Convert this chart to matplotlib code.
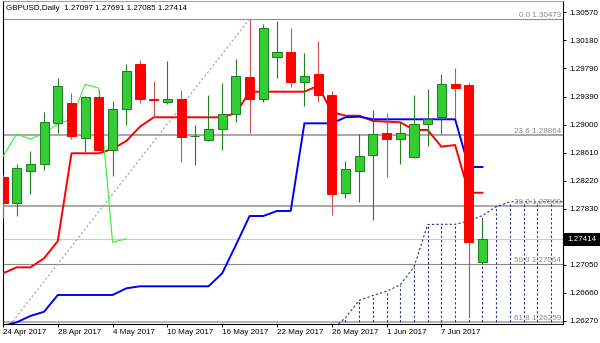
import matplotlib
matplotlib.use("Agg")
import matplotlib.pyplot as plt
from matplotlib.patches import Rectangle

plt.rcParams['font.family'] = ['Liberation Sans', 'DejaVu Sans']
plt.rcParams['font.size'] = 5.8

# daily candles, 24 Apr 2017 .. 12 Jun 2017
opens = [1.28278, 1.27916, 1.28362, 1.28451, 1.29030, 1.29299, 1.28821, 1.29387, 1.28654,
         1.29216, 1.29842, 1.29366, 1.29322, 1.29359, 1.28838, 1.28789, 1.28942, 1.29155,
         1.29670, 1.29359, 1.29944, 1.30017, 1.29600, 1.29707, 1.29415, 1.28047, 1.28362,
         1.28576, 1.28882, 1.28799, 1.28556, 1.29016, 1.29113, 1.29564, 1.29554, 1.27097]
highs = [1.28300, 1.28455, 1.28636, 1.29174, 1.29656, 1.29447, 1.29405, 1.29485, 1.29331,
         1.29846, 1.29902, 1.29614, 1.29888, 1.29485, 1.29000, 1.29415, 1.29578, 1.29916,
         1.30473, 1.30403, 1.30445, 1.30343, 1.30000, 1.30166, 1.29471, 1.28497, 1.28872,
         1.29206, 1.29159, 1.29035, 1.29415, 1.29498, 1.29707, 1.29795, 1.29578, 1.27691]
lows = [1.27703, 1.27735, 1.28033, 1.28376, 1.28882, 1.28803, 1.28626, 1.28636, 1.28292,
        1.29000, 1.29299, 1.29113, 1.29290, 1.28487, 1.28441, 1.28780, 1.28650, 1.29043,
        1.28882, 1.29313, 1.29656, 1.29530, 1.29266, 1.29313, 1.27745, 1.27986, 1.27930,
        1.27676, 1.28278, 1.28455, 1.28534, 1.28709, 1.28868, 1.29095, 1.26330, 1.27085]
closes = [1.27916, 1.28395, 1.28455, 1.29039, 1.29540, 1.28849, 1.29383, 1.28654, 1.29216,
          1.29753, 1.29359, 1.29352, 1.29359, 1.28835, 1.28845, 1.28942, 1.29155, 1.29679,
          1.29359, 1.30352, 1.30017, 1.29600, 1.29683, 1.29415, 1.28037, 1.28381, 1.28562,
          1.28872, 1.28803, 1.28882, 1.29011, 1.29081, 1.29564, 1.29509, 1.27365, 1.27414]

# ichimoku lines
tenkan = [1.26934, 1.27017, 1.27017, 1.27143, 1.27383, 1.28604, 1.28604, 1.28604, 1.28664,
          1.28775, 1.28974, 1.29105, 1.29105, 1.29105, 1.29105, 1.29105, 1.29105, 1.29163,
          1.29461, 1.29461, 1.29461, 1.29461, 1.29461, 1.29544, 1.29178, 1.29127, 1.29127,
          1.29053, 1.29044, 1.29035, 1.28928, 1.28928, 1.28696, 1.28719, 1.28055, 1.28055]
kijun = [1.26200, 1.26252, 1.26340, 1.26399, 1.26632, 1.26632, 1.26632, 1.26632, 1.26632,
         1.26725, 1.26753, 1.26753, 1.26753, 1.26753, 1.26753, 1.26753, 1.26934, 1.27328,
         1.27731, 1.27731, 1.27801, 1.27801, 1.29021, 1.29021, 1.29021, 1.29105, 1.29113,
         1.29077, 1.29077, 1.29077, 1.29077, 1.29077, 1.29077, 1.29077, 1.28413, 1.28413]
cloud_start = 24
senkou_a = [1.26150, 1.26316, 1.26555, 1.26625, 1.26683, 1.26775, 1.27021, 1.27613, 1.27616,
            1.27616, 1.27662, 1.27738, 1.27859, 1.27929, 1.27929, 1.27929, 1.27929, 1.27929]
senkou_b = [1.25500, 1.25500, 1.25500, 1.25500, 1.25500, 1.25500, 1.25500, 1.25500, 1.25500,
            1.25500, 1.25500, 1.25500, 1.25500, 1.25500, 1.25500, 1.25500, 1.25500, 1.25500]
chikou_shift = 26

# fibonacci retracement
fib_names = ["0.0", "23.6", "38.2", "50.0", "61.8"]
fib_levels = [1.30473, 1.28864, 1.27869, 1.27064, 1.26259]
fib_anchor_bars = [-10, 18]
fib_anchor_prices = [1.23655, 1.30473]

date_labels = ["24 Apr 2017", "28 Apr 2017", "4 May 2017", "10 May 2017", "16 May 2017",
               "22 May 2017", "26 May 2017", "1 Jun 2017", "7 Jun 2017"]
date_bars = [0, 4, 8, 12, 16, 20, 24, 28, 32]
price_ticks = [1.30570, 1.30180, 1.29790, 1.29390, 1.29000, 1.28610, 1.28220, 1.27830,
               1.27050, 1.26660, 1.26270]
title = "GBPUSD,Daily  1.27097 1.27691 1.27085 1.27414"

fig = plt.figure(figsize=(6, 3.43), dpi=100)
ax = fig.add_axes([2.5 / 600, 19.5 / 343, 560.5 / 600, 323 / 343])
ax.set_xlim(-0.0365, 40.876)
ax.set_ylim(1.262352, 1.307301)

# fib lines
fib_styles = [("#909090", 0.8), ("#a8a8a8", 1.4), ("#a8a8a8", 1.4), ("#888888", 0.8), ("#a8a8a8", 1.2)]
for name, lev, (col, lw) in zip(fib_names, fib_levels, fib_styles):
    ax.axhline(lev, color=col, lw=lw, zorder=1)
    ax.text(0.9965, lev, f"{name} {lev:.5f}", transform=ax.get_yaxis_transform(),
            ha="right", va="bottom", color="#888888", fontsize=5.8, zorder=6)
ax.plot(fib_anchor_bars, fib_anchor_prices, color="#a0a0a0", lw=0.8, dashes=(2, 2), zorder=2)

# current price line
ax.axhline(closes[-1], color="#cccccc", lw=0.8, zorder=1)

# cloud
cb = list(range(cloud_start, cloud_start + len(senkou_a)))
ax.vlines(cb, senkou_b, senkou_a, colors="#2b2b85", lw=0.8, linestyles=(0, (2, 2)), zorder=2)
ax.plot(cb, senkou_a, color="#2b2b85", lw=0.8, dashes=(2, 2), zorder=2)
ax.plot(cb, senkou_b, color="#2b2b85", lw=0.8, dashes=(2, 2), zorder=2)

bars = list(range(len(closes)))
ax.plot(bars, tenkan, color="#ff0000", lw=1.4, zorder=3)
ax.plot(bars, kijun, color="#0000ff", lw=1.4, zorder=3)
ax.plot(bars[:len(closes) - chikou_shift], closes[chikou_shift:], color="#33ee33", lw=0.8, zorder=3)

# candles
w = 0.66
for i, (o, h, l, c) in enumerate(zip(opens, highs, lows, closes)):
    if c >= o:
        wick, face, edge = "#237d23", "#32cd32", "#1d7a1d"
    else:
        wick, face, edge = "#d05050", "#ff0000", "#ff0000"
    ax.vlines(i, l, h, colors=wick, lw=0.8, zorder=4)
    body = max(abs(c - o), 0.00003)
    ax.add_patch(Rectangle((i - w / 2, min(o, c)), w, body, facecolor=face,
                           edgecolor=edge, lw=0.7, zorder=5))

# axes look
for s in ["left", "bottom", "right"]:
    ax.spines[s].set_color("black")
    ax.spines[s].set_linewidth(0.8)
ax.spines["top"].set_color("#909090")
ax.spines["top"].set_linewidth(0.6)

ax.yaxis.tick_right()
ax.set_yticks(price_ticks)
ax.set_yticklabels([f"{p:.5f}" for p in price_ticks])
ax.tick_params(axis="y", length=2.5, width=0.7, pad=2, labelsize=5.8)
ax.set_xticks(date_bars)
ax.set_xticklabels(date_labels, ha="left")
ax.tick_params(axis="x", length=2.5, width=0.7, pad=1.5, labelsize=5.8)
for lab in ax.get_xticklabels():
    lab.set_horizontalalignment("left")

fig.text(6 / 600, 1 - 9 / 343, title, ha="left", va="center", fontsize=5.8)

# current price box
fig.add_artist(Rectangle((564 / 600, (343 - 245.5) / 343), 36 / 600, 12.5 / 343,
                         transform=fig.transFigure, facecolor="black", edgecolor="none"))
fig.text(567.5 / 600, 1 - 239.3 / 343, f"{closes[-1]:.5f}", color="white",
         ha="left", va="center", fontsize=5.8)

fig.savefig("out.png", dpi=100)
